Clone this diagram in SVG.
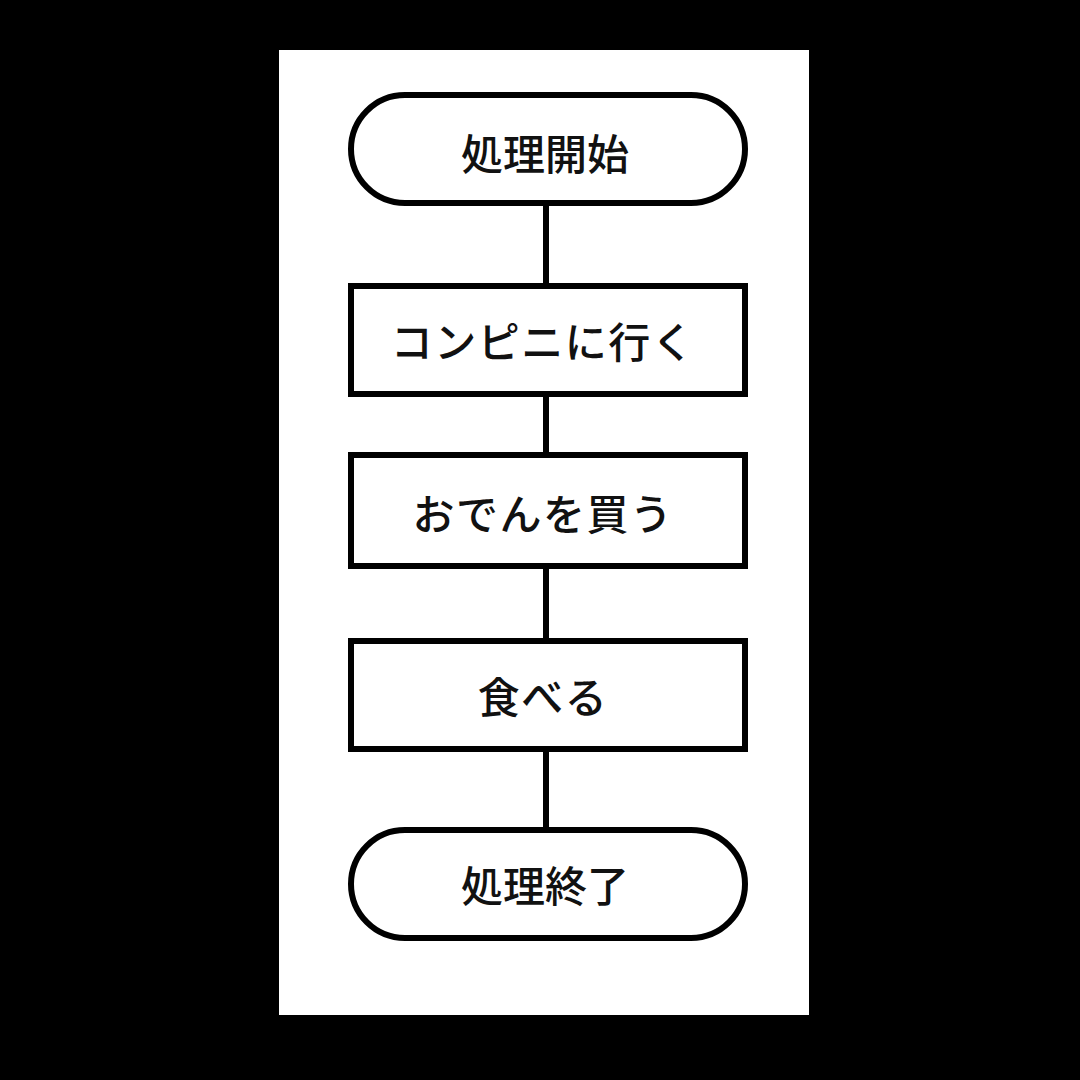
<svg xmlns="http://www.w3.org/2000/svg" width="1080" height="1080" viewBox="0 0 1080 1080">
<style>
.shape{fill:#fff;stroke:#000;stroke-width:6}
.conn{stroke:#000;stroke-width:6;fill:none}
.label{font-family:"Noto Sans CJK JP","Noto Sans CJK SC",sans-serif;font-size:42px;font-weight:500;fill:#111;text-anchor:middle;dominant-baseline:central}
.kana{letter-spacing:1.5px}
</style>
<rect x="0" y="0" width="1080" height="1080" fill="#000"/>
<rect x="279" y="50" width="530" height="965" fill="#fff"/>
<g id="connectors">
<line class="conn" x1="546" y1="203" x2="546" y2="286"/>
<line class="conn" x1="546" y1="394" x2="546" y2="455"/>
<line class="conn" x1="546" y1="566" x2="546" y2="641"/>
<line class="conn" x1="546" y1="749" x2="546" y2="830"/>
</g>
<g id="start">
<rect class="shape" x="351" y="95" width="394" height="108" rx="54" ry="54"/>
<text class="label" x="545" y="151">処理開始</text>
</g>
<g id="step1">
<rect class="shape" x="351" y="286" width="394" height="108"/>
<text class="label kana" x="543" y="339">コンピニに行く</text>
</g>
<g id="step2">
<rect class="shape" x="351" y="455" width="394" height="111"/>
<text class="label kana" x="543" y="511">おでんを買う</text>
</g>
<g id="step3">
<rect class="shape" x="351" y="641" width="394" height="108"/>
<text class="label kana" x="543" y="694">食べる</text>
</g>
<g id="end">
<rect class="shape" x="351" y="830" width="394" height="108" rx="54" ry="54"/>
<text class="label" x="545" y="883">処理終了</text>
</g>
</svg>
